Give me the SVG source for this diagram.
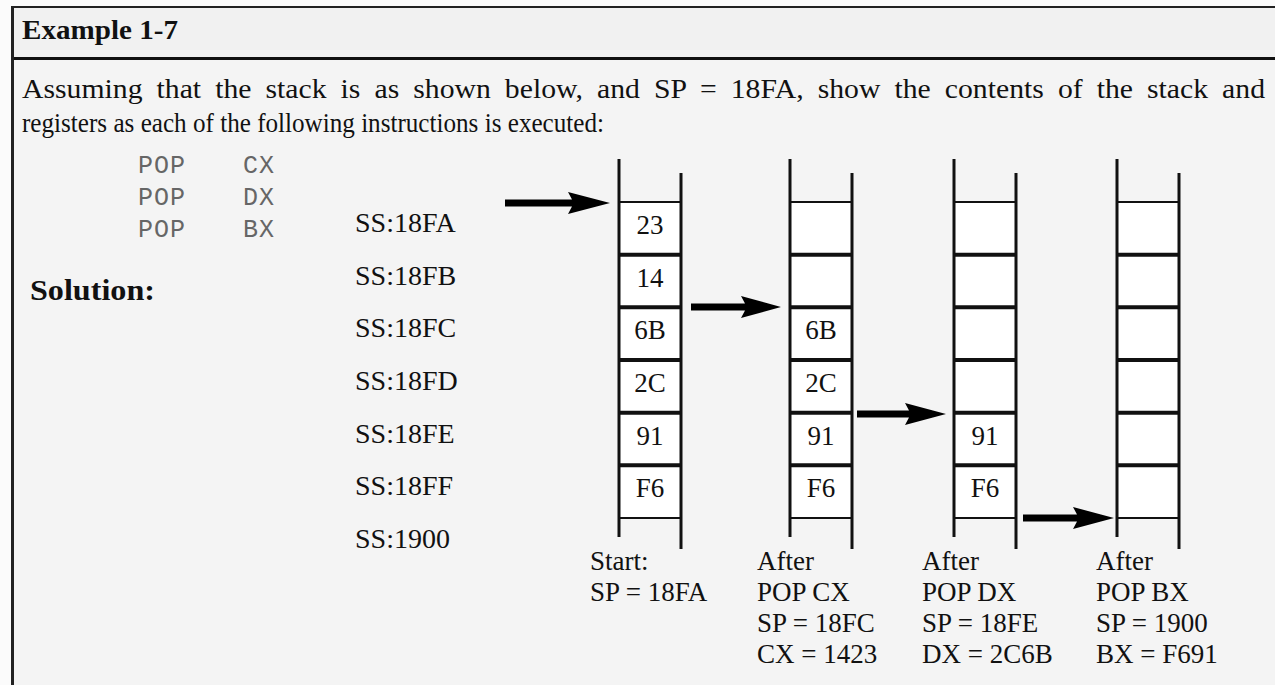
<svg xmlns="http://www.w3.org/2000/svg" width="1275" height="685" viewBox="0 0 1275 685">
<style>
.serif{font-family:"Liberation Serif","Times New Roman",serif;fill:#111}
.b{font-weight:bold}
.mono{font-family:"Liberation Mono","Courier New",monospace;fill:#666;font-size:25px;letter-spacing:1px}
.cell{fill:#fff;stroke:none}
.vl{stroke:#111;stroke-width:3;fill:none}
.thin{stroke:#111;stroke-width:2.2}
.thick{stroke:#111;stroke-width:4}
.ct{font-family:"Liberation Serif","Times New Roman",serif;fill:#111;font-size:27px;text-anchor:middle}
.lab{font-family:"Liberation Serif","Times New Roman",serif;fill:#111;font-size:27px}
.addr{font-family:"Liberation Serif","Times New Roman",serif;fill:#111;font-size:28px}
.arr{fill:#000}
</style>
<defs>
<g id="stack">
<rect class="cell" x="0" y="202" width="62" height="316"/>
<line class="thin" x1="0" y1="202" x2="62" y2="202"/>
<line class="thick" x1="0" y1="254.7" x2="62" y2="254.7"/>
<line class="thick" x1="0" y1="307.3" x2="62" y2="307.3"/>
<line class="thick" x1="0" y1="360" x2="62" y2="360"/>
<line class="thick" x1="0" y1="412.7" x2="62" y2="412.7"/>
<line class="thick" x1="0" y1="465.3" x2="62" y2="465.3"/>
<line class="thin" x1="0" y1="518" x2="62" y2="518"/>
<line class="vl" x1="0" y1="159" x2="0" y2="537"/>
<line class="vl" x1="62" y1="173" x2="62" y2="549"/>
</g>
</defs>
<rect x="0" y="0" width="1275" height="685" fill="#fbfbfb"/>
<rect x="12" y="7" width="1263" height="51" fill="#f1f1f1"/>
<rect x="12" y="58" width="1263" height="627" fill="#f4f4f4"/>
<line x1="11" y1="7" x2="1275" y2="7" stroke="#222" stroke-width="2"/>
<line x1="11" y1="58.5" x2="1275" y2="58.5" stroke="#111" stroke-width="3"/>
<line x1="12.5" y1="6" x2="12.5" y2="685" stroke="#222" stroke-width="3"/>

<g id="header">
<text class="serif b" x="22" y="39" font-size="28" textLength="156" lengthAdjust="spacingAndGlyphs">Example 1-7</text>
</g>
<g id="problem">
<text class="serif" x="22" y="98" font-size="27" word-spacing="6" textLength="1243" lengthAdjust="spacingAndGlyphs">Assuming that the stack is as shown below, and SP = 18FA, show the contents of the stack and</text>
<text class="serif" x="22" y="132" font-size="27" textLength="582" lengthAdjust="spacingAndGlyphs">registers as each of the following instructions is executed:</text>
</g>
<g id="code">
<text class="mono" x="138" y="173">POP</text><text class="mono" x="243" y="173">CX</text>
<text class="mono" x="138" y="205">POP</text><text class="mono" x="243" y="205">DX</text>
<text class="mono" x="138" y="237">POP</text><text class="mono" x="243" y="237">BX</text>
</g>
<g id="solution">
<text class="serif b" x="30" y="300" font-size="30" textLength="125" lengthAdjust="spacingAndGlyphs">Solution:</text>
</g>
<g id="addresses">
<text class="addr" x="355" y="232">SS:18FA</text>
<text class="addr" x="355" y="285">SS:18FB</text>
<text class="addr" x="355" y="337">SS:18FC</text>
<text class="addr" x="355" y="390">SS:18FD</text>
<text class="addr" x="355" y="443">SS:18FE</text>
<text class="addr" x="355" y="495">SS:18FF</text>
<text class="addr" x="355" y="548">SS:1900</text>
</g>

<g id="stack1">
<use href="#stack" x="619"/>
<text class="ct" x="650" y="234">23</text>
<text class="ct" x="650" y="287">14</text>
<text class="ct" x="650" y="339">6B</text>
<text class="ct" x="650" y="392">2C</text>
<text class="ct" x="650" y="445">91</text>
<text class="ct" x="650" y="497">F6</text>
<text class="lab" x="590" y="570">Start:</text>
<text class="lab" x="590" y="601">SP = 18FA</text>
</g>
<g id="stack2">
<use href="#stack" x="790"/>
<text class="ct" x="821" y="339">6B</text>
<text class="ct" x="821" y="392">2C</text>
<text class="ct" x="821" y="445">91</text>
<text class="ct" x="821" y="497">F6</text>
<text class="lab" x="757" y="570">After</text>
<text class="lab" x="757" y="601">POP CX</text>
<text class="lab" x="757" y="632">SP = 18FC</text>
<text class="lab" x="757" y="663">CX = 1423</text>
</g>
<g id="stack3">
<use href="#stack" x="954"/>
<text class="ct" x="985" y="445">91</text>
<text class="ct" x="985" y="497">F6</text>
<text class="lab" x="922" y="570">After</text>
<text class="lab" x="922" y="601">POP DX</text>
<text class="lab" x="922" y="632">SP = 18FE</text>
<text class="lab" x="922" y="663">DX = 2C6B</text>
</g>
<g id="stack4">
<use href="#stack" x="1117"/>
<text class="lab" x="1096" y="570">After</text>
<text class="lab" x="1096" y="601">POP BX</text>
<text class="lab" x="1096" y="632">SP = 1900</text>
<text class="lab" x="1096" y="663">BX = F691</text>
</g>

<g id="connectors">
<polygon class="arr" points="505,199.5 572,199.5 568,192 610,203 568,214 572,206.5 505,206.5"/>
<polygon class="arr" points="691,303.5 745,303.5 741,296 781,307 741,318 745,310.5 691,310.5"/>
<polygon class="arr" points="857,410.5 909,410.5 905,403 946,414 905,425 909,417.5 857,417.5"/>
<polygon class="arr" points="1023,514.5 1077,514.5 1073,507 1114,518 1073,529 1077,521.5 1023,521.5"/>
</g>
</svg>
